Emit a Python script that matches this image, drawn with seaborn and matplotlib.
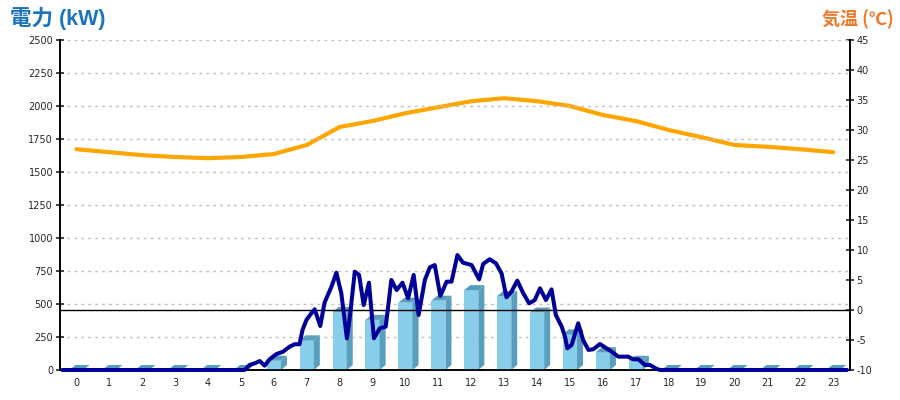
import matplotlib
matplotlib.use('Agg')
import matplotlib.pyplot as plt
import matplotlib.transforms as mtransforms
from matplotlib.patches import Polygon
import seaborn as sns
import pandas as pd
import numpy as np

# 時間別データ
hours = list(range(24))
hourly_kw = [0, 0, 0, 0, 0, 0, 70, 225, 440, 380, 510, 525,
             605, 560, 435, 270, 135, 70, 0, 0, 0, 0, 0, 0]
temp_c = [26.8, 26.3, 25.8, 25.5, 25.3, 25.5, 26.0, 27.5, 30.5, 31.5, 32.8, 33.8,
          34.8, 35.3, 34.8, 34.0, 32.5, 31.5, 30.0, 28.8, 27.5, 27.2, 26.8, 26.3]

# 瞬時電力 (時刻[h], kW)
power_time = [0.07, 5.61, 5.76, 5.92, 6.07, 6.22, 6.37, 6.58, 6.78, 6.98,
              7.13, 7.28, 7.37, 7.49, 7.64, 7.74, 7.91, 8.04, 8.25, 8.40,
              8.55, 8.72, 8.81, 8.96, 9.09, 9.23, 9.39, 9.54, 9.72, 9.90,
              10.07, 10.23, 10.41, 10.58, 10.75, 10.90, 11.09, 11.24, 11.39, 11.56,
              11.75, 11.90, 12.08, 12.25, 12.51, 12.74, 12.86, 13.06, 13.25, 13.42,
              13.57, 13.72, 13.90, 14.08, 14.26, 14.43, 14.59, 14.77, 14.94, 15.07,
              15.25, 15.35, 15.42, 15.55, 15.75, 15.90, 16.06, 16.21, 16.41, 16.61,
              16.77, 16.97, 17.27, 17.42, 17.58, 17.78, 17.93, 18.14, 18.24, 23.92]
power_kw = [0, 0, 38, 51, 68, 33, 81, 121, 139, 177,
            195, 195, 303, 379, 430, 460, 333, 510, 631, 737,
            581, 240, 404, 745, 720, 492, 661, 240, 316, 328,
            682, 606, 661, 543, 720, 417, 682, 778, 795, 561,
            669, 669, 871, 813, 795, 687, 803, 839, 808, 733,
            551, 593, 677, 581, 505, 530, 619, 530, 611, 417,
            328, 252, 164, 189, 354, 227, 152, 157, 197, 164,
            139, 101, 101, 81, 81, 38, 38, 8, 0, 0]

kw_ticks = list(range(0, 2501, 250))
temp_ticks = list(range(-10, 46, 5))

sns.set_style('white')
plt.rcParams['font.family'] = ['Noto Sans CJK JP', 'DejaVu Sans']
plt.rcParams['axes.unicode_minus'] = False

df_bar = pd.DataFrame({'hour': hours, 'kw': hourly_kw})
df_temp = pd.DataFrame({'hour': hours, 'temp': temp_c})
df_pow = pd.DataFrame({'pos': np.array(power_time) - 0.5, 'kw': power_kw})

fig, ax = plt.subplots(figsize=(9, 4), dpi=100)
fig.subplots_adjust(left=0.0667, right=0.944, top=0.9, bottom=0.075)
ax2 = ax.twinx()
ax.set_zorder(ax2.get_zorder() + 1)
ax.patch.set_visible(False)

# 棒グラフ (前面)
sns.barplot(data=df_bar, x='hour', y='kw', color='#87CEEB', saturation=1,
            width=0.43, linewidth=0, ax=ax, zorder=2)

ax.set_xlim(-0.5, 23.5)
ax.set_ylim(0, 2500)
ax2.set_ylim(-10, 45)

# 立体の側面と上面
side = '#5A9EBD'
origin = ax.transData.transform((0, 0))
dx, dy = ax.transData.inverted().transform(origin + np.array([6, 5]))
for p in list(ax.patches):
    x, w, h = p.get_x(), p.get_width(), p.get_height()
    top = Polygon([(x, h), (x + dx, h + dy), (x + w + dx, h + dy), (x + w, h)],
                  closed=True, facecolor=side, edgecolor='none', zorder=2)
    ax.add_patch(top)
    if h > 0:
        sd = Polygon([(x + w, 0), (x + w + dx, dy), (x + w + dx, h + dy), (x + w, h)],
                     closed=True, facecolor=side, edgecolor='none', zorder=2)
        ax.add_patch(sd)

# 気温0℃の線
trans = mtransforms.blended_transform_factory(ax.transAxes, ax2.transData)
ax.plot([0, 1], [0, 0], color='black', lw=1, transform=trans, zorder=3)

# 瞬時電力
sns.lineplot(data=df_pow, x='pos', y='kw', color='#000099', lw=2.9,
             estimator=None, ax=ax, zorder=4, clip_on=False)

# 気温
sns.lineplot(data=df_temp, x='hour', y='temp', color='#FFA500', lw=3,
             estimator=None, ax=ax2)

ax.set_xlim(-0.5, 23.5)
ax.set_ylim(0, 2500)
ax2.set_ylim(-10, 45)
ax.set_xticks(hours)
ax.set_xticklabels([str(h) for h in hours])
ax.set_yticks(kw_ticks)
ax.set_yticklabels([str(v) for v in kw_ticks])
ax2.set_yticks(temp_ticks)
ax2.set_yticklabels([str(v) for v in temp_ticks])
for a in (ax, ax2):
    a.set_xlabel('')
    a.set_ylabel('')

ax.set_axisbelow(True)
ax.yaxis.grid(True, color='#C0C0C0', linestyle=(0, (2, 3)), linewidth=1)
ax.xaxis.grid(False)
ax2.grid(False)

for a in (ax, ax2):
    a.spines['top'].set_visible(False)
    for s in ('left', 'right', 'bottom'):
        a.spines[s].set_color('black')
        a.spines[s].set_linewidth(1.2)

ax.tick_params(axis='y', direction='inout', length=6, width=1.2, labelsize=7, pad=2)
ax2.tick_params(axis='y', direction='inout', length=6, width=1.2, labelsize=7, pad=2)
ax.tick_params(axis='x', length=0, labelsize=7, pad=6)
for lab in ax.get_yticklabels() + ax2.get_yticklabels() + ax.get_xticklabels():
    lab.set_family(['DejaVu Sans'])

fig.text(0.011, 0.953, '電力 (kW)', color='#1C74C0', fontsize=15.5,
         fontweight='bold', va='center', ha='left',
         family=['Liberation Sans', 'Noto Sans CJK JP'])
fig.text(0.993, 0.953, '気温 (℃)', color='#F0782A', fontsize=13,
         fontweight='bold', va='center', ha='right',
         family=['Noto Sans CJK JP', 'DejaVu Sans'])

fig.savefig('out.png', dpi=100)
